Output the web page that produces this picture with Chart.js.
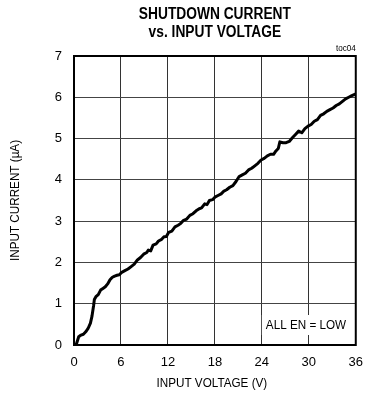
<!DOCTYPE html>
<html>
<head>
<meta charset="utf-8">
<script src="https://cdn.jsdelivr.net/npm/chart.js@4.4.1/dist/chart.umd.min.js"></script>
<style>
  html, body { margin: 0; padding: 0; background: #fff; }
  #wrap { width: 373px; height: 398px; position: relative; }
</style>
</head>
<body>
<div id="wrap"><canvas id="chart" width="373" height="398"></canvas></div>
<script>
// Shutdown current (uA) measured against input voltage (V)
const voltage = [
  0, 0.3, 0.6, 0.9, 1.2, 1.5, 1.8, 2.1, 2.3, 2.5, 2.6, 2.8, 3.1, 3.4, 3.7, 4.0,
  4.3, 4.6, 4.9, 5.2, 5.5, 5.8, 6.1, 6.5, 6.9, 7.3, 7.7, 8.1, 8.5, 8.9, 9.3, 9.5,
  9.8, 10.1, 10.5, 10.8, 11.2, 11.5, 11.8, 12.1, 12.5, 12.9, 13.3, 13.6, 14.0,
  14.4, 14.8, 15.2, 15.6, 16.0, 16.3, 16.7, 17.0, 17.3, 17.7, 18.0, 18.4, 18.8,
  19.1, 19.5, 19.9, 20.3, 20.7, 21.1, 21.5, 21.9, 22.3, 22.7, 23.1, 23.5, 23.9,
  24.3, 24.7, 25.1, 25.5, 25.8, 26.1, 26.3, 26.7, 27.1, 27.5, 27.9, 28.3, 28.7,
  29.1, 29.5, 29.9, 30.3, 30.7, 31.1, 31.5, 31.9, 32.3, 32.7, 33.1, 33.5, 33.9,
  34.3, 34.7, 35.1, 35.5, 36.0
];
const current = [
  0, 0.02, 0.2, 0.24, 0.26, 0.32, 0.4, 0.53, 0.7, 0.95, 1.1, 1.17, 1.22, 1.33, 1.37, 1.41,
  1.48, 1.58, 1.64, 1.67, 1.69, 1.70, 1.76, 1.80, 1.84, 1.90, 1.96, 2.06, 2.12, 2.20, 2.24, 2.30,
  2.28, 2.42, 2.45, 2.52, 2.56, 2.62, 2.63, 2.73, 2.76, 2.86, 2.90, 2.94, 3.02,
  3.05, 3.14, 3.18, 3.25, 3.30, 3.32, 3.42, 3.40, 3.50, 3.52, 3.58, 3.62, 3.66,
  3.72, 3.76, 3.82, 3.86, 3.96, 4.08, 4.12, 4.16, 4.24, 4.28, 4.34, 4.40, 4.48,
  4.52, 4.58, 4.62, 4.62, 4.70, 4.76, 4.92, 4.90, 4.90, 4.93, 5.02, 5.10, 5.18,
  5.14, 5.24, 5.30, 5.34, 5.42, 5.46, 5.56, 5.60, 5.66, 5.70, 5.74, 5.80, 5.84,
  5.90, 5.96, 6.00, 6.04, 6.08
];
const xTicks = [0, 6, 12, 18, 24, 30, 36];
const yTicks = [0, 1, 2, 3, 4, 5, 6, 7];

const titleLines = ['SHUTDOWN CURRENT', 'vs. INPUT VOLTAGE'];
const xTitle = 'INPUT VOLTAGE (V)';
const yTitle = 'INPUT CURRENT (\u00b5A)';
const note = 'ALL EN = LOW';
const tag = 'toc04';

const FONT = '"Liberation Sans", Arial, sans-serif';

// text squeezed horizontally, to get a narrow face
function narrowText(ctx, text, x, y, sx) {
  ctx.save();
  ctx.translate(x, y);
  ctx.scale(sx, 1);
  ctx.fillText(text, 0, 0);
  ctx.restore();
}

// titles, axis labels, the note box and the frame
const decorations = {
  id: 'decorations',
  afterDraw(chart) {
    const ctx = chart.ctx;
    const a = chart.chartArea;
    const cx = (a.left + a.right) / 2;
    ctx.save();
    ctx.fillStyle = '#000';
    ctx.textAlign = 'center';
    ctx.textBaseline = 'middle';

    ctx.font = 'bold 16px ' + FONT;
    narrowText(ctx, titleLines[0], cx, 15, 0.86);
    narrowText(ctx, titleLines[1], cx, 33, 0.86);

    ctx.font = '13px ' + FONT;
    narrowText(ctx, xTitle, cx - 3, 383, 0.9);

    ctx.save();
    ctx.translate(15, (a.top + a.bottom) / 2);
    ctx.rotate(-Math.PI / 2);
    narrowText(ctx, yTitle, 0, 0, 0.9);
    ctx.restore();

    ctx.font = '9px ' + FONT;
    ctx.textAlign = 'right';
    narrowText(ctx, tag, a.right, 49, 0.9);

    // note with white box breaking the grid
    ctx.font = '13px ' + FONT;
    ctx.textAlign = 'center';
    const nx = 306, ny = 325;
    const w = ctx.measureText(note).width * 0.9;
    ctx.fillStyle = '#fff';
    ctx.fillRect(nx - w / 2 - 4, ny - 10, w + 8, 20);
    ctx.fillStyle = '#000';
    narrowText(ctx, note, nx, ny, 0.9);

    // plot frame
    ctx.strokeStyle = '#000';
    ctx.lineWidth = 2;
    ctx.strokeRect(a.left, a.top, a.right - a.left, a.bottom - a.top);
    ctx.restore();
  }
};

new Chart(document.getElementById('chart'), {
  type: 'scatter',
  data: {
    datasets: [{
      data: voltage.map((v, i) => ({ x: v, y: current[i] })),
      showLine: true,
      borderColor: '#000',
      borderWidth: 3,
      borderJoinStyle: 'round',
      borderCapStyle: 'round',
      pointRadius: 0,
      tension: 0
    }]
  },
  options: {
    responsive: false,
    animation: false,
    events: [],
    layout: { autoPadding: false, padding: { left: 0, right: 5, top: 56, bottom: 0 } },
    plugins: { legend: { display: false }, tooltip: { enabled: false } },
    scales: {
      x: {
        type: 'linear', min: 0, max: 36,
        afterFit: s => { s.height = 53; },
        afterBuildTicks: s => { s.ticks = xTicks.map(v => ({ value: v })); },
        grid: { color: '#333', lineWidth: 1, drawTicks: false },
        border: { display: false },
        ticks: { color: '#000', padding: 10, font: { family: FONT, size: 13 } }
      },
      y: {
        type: 'linear', min: 0, max: 7,
        afterFit: s => { s.width = 74; },
        afterBuildTicks: s => { s.ticks = yTicks.map(v => ({ value: v })); },
        grid: { color: '#444', lineWidth: 1, drawTicks: false },
        border: { display: false },
        ticks: { color: '#000', padding: 12, font: { family: FONT, size: 13 } }
      }
    }
  },
  plugins: [decorations]
});
</script>
</body>
</html>
